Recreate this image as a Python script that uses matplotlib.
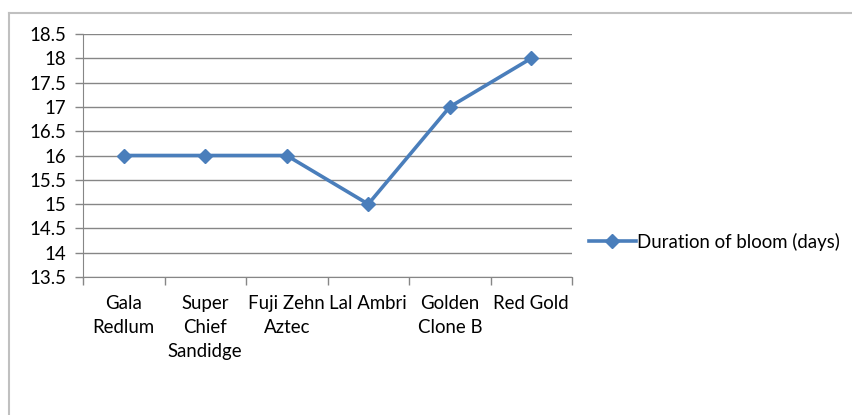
import matplotlib
matplotlib.use('Agg')
import matplotlib.pyplot as plt
from matplotlib.lines import Line2D

categories = ['Gala\nRedlum', 'Super\nChief\nSandidge', 'Fuji Zehn\nAztec',
              'Lal Ambri', 'Golden\nClone B', 'Red Gold']
bloom_days = [16, 16, 16, 15, 17, 18]
y_ticks = [13.5, 14, 14.5, 15, 15.5, 16, 16.5, 17, 17.5, 18, 18.5]
y_labels = ['13.5', '14', '14.5', '15', '15.5', '16', '16.5', '17', '17.5', '18', '18.5']
series_name = 'Duration of bloom (days)'

plt.rcParams['font.family'] = ['Lato', 'DejaVu Sans']
blue = '#4a7ebb'
grid_c = '#868686'
fs = 13.4

fig = plt.figure(figsize=(8.53, 4.15), dpi=100)
# outer chart border
fig.add_artist(Line2D([9 / 853, 9 / 853], [0, 1 - 13 / 415], color='#c0c0c0', lw=1.5))
fig.add_artist(Line2D([9 / 853, 1], [1 - 13 / 415, 1 - 13 / 415], color='#c0c0c0', lw=1.5))

ax = fig.add_axes([83 / 853, 1 - 277 / 415, (572 - 83) / 853, (277 - 34) / 415])
x = list(range(len(categories)))
ax.plot(x, bloom_days, color=blue, lw=2.6, marker='D', markersize=7,
        markerfacecolor=blue, markeredgecolor=blue, label=series_name)

ax.set_xlim(-0.5, len(categories) - 0.5)
ax.set_ylim(13.5, 18.5)
ax.set_yticks(y_ticks)
ax.set_yticklabels(y_labels)
for yv in y_ticks:
    ax.axhline(yv, color=grid_c, lw=1, zorder=0)

ax.set_xticks(x)
ax.set_xticklabels(categories, va='top', linespacing=1.5)
ax.tick_params(axis='x', length=0, pad=13, labelsize=fs)
ax.set_xticks([i - 0.5 for i in range(len(categories) + 1)], minor=True)
ax.tick_params(axis='x', which='minor', length=6, color=grid_c, width=1)
ax.tick_params(axis='y', length=6, color=grid_c, width=1, labelsize=fs, pad=6)

for s in ['top', 'right']:
    ax.spines[s].set_visible(False)
ax.spines['left'].set_color(grid_c)
ax.spines['bottom'].set_color(grid_c)

ax.legend(loc='center left', bbox_to_anchor=(1.02, 0.145), frameon=False,
          fontsize=fs, handlelength=2.5, handletextpad=0.05, borderaxespad=0)

fig.savefig('out.png', dpi=100)
